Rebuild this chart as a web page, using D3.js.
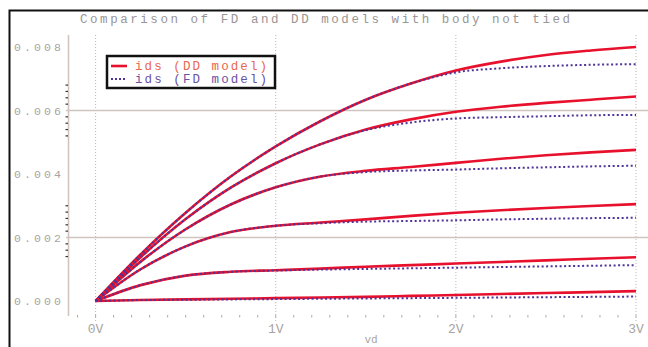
<!DOCTYPE html>
<html>
<head>
<meta charset="utf-8">
<script src="https://cdn.jsdelivr.net/npm/d3@7"></script>
<style>
  html, body { margin: 0; padding: 0; background: #fff; overflow: hidden; }
  svg { display: block; }
</style>
</head>
<body>
<svg id="chart"></svg>
<script>
// --- data ---
const vd = [0, 0.25, 0.5, 0.75, 1, 1.25, 1.5, 1.75, 2, 2.25, 2.5, 2.75, 3]

// DD model (solid red), one array per gate bias, top to bottom
const dd1 = [0, 0.00147, 0.00278, 0.00392, 0.00487, 0.00567, 0.00634, 0.00685, 0.00726, 0.00754, 0.00775, 0.00789, 0.00800]
const dd2 = [0, 0.00138, 0.00258, 0.00357, 0.00434, 0.00494, 0.00540, 0.00572, 0.00596, 0.00612, 0.00624, 0.00634, 0.00644]
const dd3 = [0, 0.00124, 0.00226, 0.00304, 0.00358, 0.00392, 0.00410, 0.00422, 0.00435, 0.00448, 0.00459, 0.00468, 0.00476]
const dd4 = [0, 0.00100, 0.00172, 0.00217, 0.00237, 0.00247, 0.00257, 0.00268, 0.00278, 0.00286, 0.00293, 0.00299, 0.00305]
const dd5 = [0, 0.00050, 0.00080, 0.00092, 0.00097, 0.00102, 0.00108, 0.00113, 0.00118, 0.00123, 0.00128, 0.00133, 0.00138]
const dd6 = [0, 0.00003, 0.00005, 0.00007, 0.00009, 0.00011, 0.00013, 0.00016, 0.00019, 0.00022, 0.00025, 0.00028, 0.00031]

// FD model (dotted purple)
const fd1 = [0, 0.00147, 0.00278, 0.00392, 0.00487, 0.00567, 0.00634, 0.00685, 0.00720, 0.00733, 0.00740, 0.00744, 0.00746]
const fd2 = [0, 0.00138, 0.00258, 0.00357, 0.00434, 0.00494, 0.00538, 0.00562, 0.00575, 0.00579, 0.00582, 0.00585, 0.00586]
const fd3 = [0, 0.00124, 0.00226, 0.00304, 0.00358, 0.00392, 0.00406, 0.00411, 0.00414, 0.00418, 0.00421, 0.00424, 0.00426]
const fd4 = [0, 0.00100, 0.00172, 0.00217, 0.00237, 0.00245, 0.00250, 0.00252, 0.00254, 0.00257, 0.00259, 0.00261, 0.00262]
const fd5 = [0, 0.00050, 0.00080, 0.00092, 0.00096, 0.00099, 0.00101, 0.00103, 0.00105, 0.00107, 0.00109, 0.00111, 0.00113]
const fd6 = [0, 0.00003, 0.00004, 0.00005, 0.00006, 0.00007, 0.00008, 0.00009, 0.00010, 0.00011, 0.00012, 0.00013, 0.00014]

const yTicks = [0, 0.002, 0.004, 0.006, 0.008]
const yGrid = [0.002, 0.006]
const yMinor = [0.0014, 0.0016, 0.0018, 0.0022, 0.0024, 0.0026, 0.0028, 0.0030,
                0.0052, 0.0054, 0.0056, 0.0058, 0.0062, 0.0064, 0.0066, 0.0068]
const xTicks = [0, 1, 2, 3]
const xTickLabels = ['0V', '1V', '2V', '3V']
const legendLabels = ['ids (DD model)', 'ids (FD model)']
const title = 'Comparison of FD and DD models with body not tied'

// --- layout ---
const W = 648, H = 347
const RED = '#e8112d', PURPLE = '#4e3399', GREY = '#a8a4a2', GRID = '#cfc5be'
const MONO = '"Liberation Mono", "DejaVu Sans Mono", monospace'

const svg = d3.select('#chart').attr('width', W).attr('height', H)

const x = d3.scaleLinear().domain([0, 3]).range([95.6, 636])
const y = d3.scaleLinear().domain([0, 0.008]).range([301, 47])

// frame (left + top edges visible)
svg.append('path')
  .attr('d', `M9.5,${H} V10.5 H${W}`)
  .attr('fill', 'none').attr('stroke', '#111').attr('stroke-width', 2)

// title
svg.append('text')
  .attr('x', 80).attr('y', 23)
  .attr('textLength', 490).attr('lengthAdjust', 'spacing')
  .attr('font-family', MONO).attr('font-size', 12.5)
  .attr('fill', '#9a9696')
  .text(title)

// vertical dotted grid at major x ticks
svg.append('g').selectAll('line')
  .data(xTicks)
  .join('line')
  .attr('x1', d => x(d)).attr('x2', d => x(d))
  .attr('y1', 35).attr('y2', 321)
  .attr('stroke', '#bdb6b2').attr('stroke-width', 1)
  .attr('stroke-dasharray', '1,2')

// horizontal grid lines
svg.append('g').selectAll('line')
  .data(yGrid)
  .join('line')
  .attr('x1', 66).attr('x2', W)
  .attr('y1', d => y(d)).attr('y2', d => y(d))
  .attr('stroke', GRID).attr('stroke-width', 1.6)

// y axis line
svg.append('line')
  .attr('x1', 68.5).attr('x2', 68.5)
  .attr('y1', 35).attr('y2', 316)
  .attr('stroke', GRID).attr('stroke-width', 1.6)

// y minor ticks
svg.append('g').selectAll('line')
  .data(yMinor)
  .join('line')
  .attr('x1', 65.5).attr('x2', 68)
  .attr('y1', d => y(d)).attr('y2', d => y(d))
  .attr('stroke', '#333').attr('stroke-width', 1.2)

// y tick labels
svg.append('g').selectAll('text')
  .data(yTicks)
  .join('text')
  .attr('x', 14).attr('y', d => y(d) + 4)
  .attr('textLength', 47).attr('lengthAdjust', 'spacing')
  .attr('font-family', MONO).attr('font-size', 11.5)
  .attr('fill', GREY)
  .text(d => d3.format('.3f')(d))

// x minor ticks every 0.1V
const xMinor = d3.range(-1, 31).map(i => i / 10)
svg.append('g').selectAll('line')
  .data(xMinor)
  .join('line')
  .attr('x1', d => x(d)).attr('x2', d => x(d))
  .attr('y1', 315).attr('y2', 317.5)
  .attr('stroke', '#aaa').attr('stroke-width', 1)

// x tick labels
svg.append('g').selectAll('text')
  .data(xTicks)
  .join('text')
  .attr('x', d => x(d)).attr('y', 333)
  .attr('text-anchor', 'middle')
  .attr('font-family', MONO).attr('font-size', 13)
  .attr('fill', GREY)
  .text((d, i) => xTickLabels[i])

// x axis title
svg.append('text')
  .attr('x', 371).attr('y', 343)
  .attr('text-anchor', 'middle')
  .attr('font-family', MONO).attr('font-size', 11)
  .attr('fill', GREY)
  .text('vd')

// curves
const line = d3.line()
  .x((d, i) => x(vd[i]))
  .y(d => y(d))
  .curve(d3.curveMonotoneX)

const ddCurves = [dd1, dd2, dd3, dd4, dd5, dd6]
const fdCurves = [fd1, fd2, fd3, fd4, fd5, fd6]

svg.append('g').selectAll('path')
  .data(ddCurves)
  .join('path')
  .attr('d', line)
  .attr('fill', 'none')
  .attr('stroke', RED).attr('stroke-width', 2.6)

svg.append('g').selectAll('path')
  .data(fdCurves)
  .join('path')
  .attr('d', line)
  .attr('fill', 'none')
  .attr('stroke', PURPLE).attr('stroke-width', 2)
  .attr('stroke-dasharray', '2,2.5')

// legend
const lg = svg.append('g')
lg.append('rect')
  .attr('x', 107).attr('y', 56).attr('width', 168).attr('height', 32)
  .attr('fill', '#fff').attr('stroke', '#111').attr('stroke-width', 2.5)

lg.append('line')
  .attr('x1', 111).attr('x2', 127).attr('y1', 66).attr('y2', 66)
  .attr('stroke', RED).attr('stroke-width', 2.6)
lg.append('line')
  .attr('x1', 111).attr('x2', 127).attr('y1', 79).attr('y2', 79)
  .attr('stroke', PURPLE).attr('stroke-width', 2).attr('stroke-dasharray', '2,2')

lg.selectAll('text')
  .data(legendLabels)
  .join('text')
  .attr('x', 135).attr('y', (d, i) => 70 + i * 13)
  .attr('textLength', 132).attr('lengthAdjust', 'spacing')
  .attr('font-family', MONO).attr('font-size', 12.5)
  .attr('fill', (d, i) => i === 0 ? '#e8674f' : '#6a52a2')
  .text(d => d)
</script>
</body>
</html>
